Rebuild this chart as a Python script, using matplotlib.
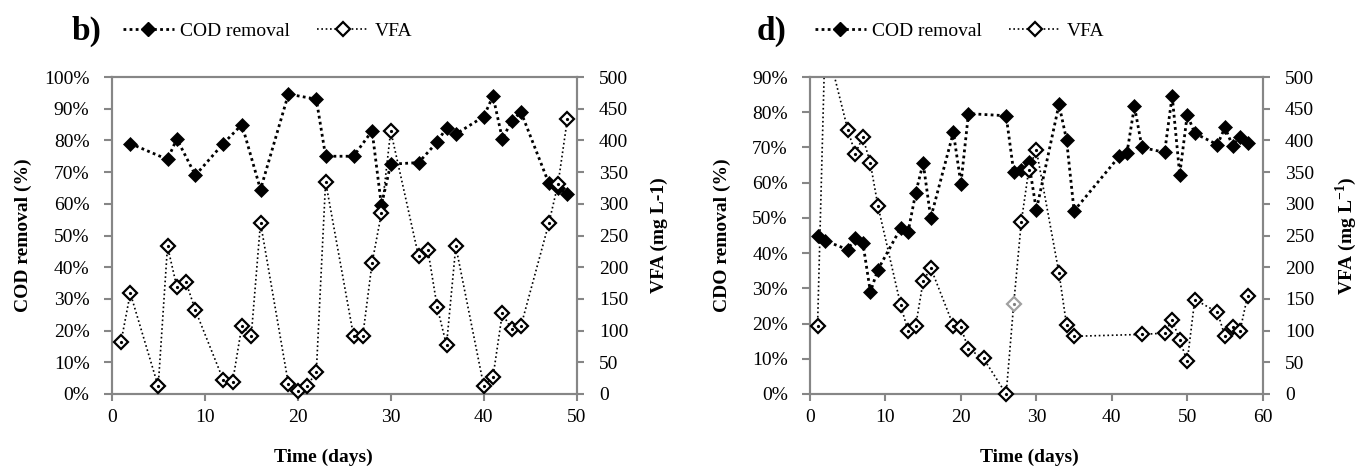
import numpy as np
import matplotlib
matplotlib.use("Agg")
import matplotlib.pyplot as plt
from matplotlib.lines import Line2D

plt.rcParams['font.family'] = ['Liberation Serif', 'DejaVu Serif']
plt.rcParams['mathtext.fontset'] = 'custom'
plt.rcParams['mathtext.rm'] = 'Liberation Serif'
plt.rcParams['mathtext.bf'] = 'Liberation Serif:bold'

# panel b) data
b_cod_days = [2, 6, 7, 9, 12, 14, 16, 19, 22, 23, 26, 28, 29, 30, 33, 35, 36, 37, 40, 41, 42, 43, 44, 47, 48, 49]
b_cod = [79, 74, 80.5, 69, 79, 85, 64.5, 94.6, 93, 75, 75, 83, 59.5, 72.5, 73, 79.5, 84, 82, 87.5, 94,
         80.5, 86, 89, 66.5, 65, 63]
b_vfa_days = [1, 2, 5, 6, 7, 8, 9, 12, 13, 14, 15, 16, 19, 20, 21, 22, 23, 26, 27, 28, 29, 30, 33, 34, 35,
              36, 37, 40, 41, 42, 43, 44, 47, 48, 49]
b_vfa = [82, 159, 12, 233, 169, 176, 132, 22, 19, 108, 91, 270, 16, 4, 13, 34, 335, 92, 92, 207, 285, 415,
         217, 227, 137, 77, 233, 13, 27, 127, 102, 107, 269, 332, 434]

# panel d) data
d_cod_days = [1, 2, 5, 6, 7, 8, 9, 12, 13, 14, 15, 16, 19, 20, 21, 26, 27, 28, 29, 30, 33, 34, 35, 41, 42,
              43, 44, 47, 48, 49, 50, 51, 54, 55, 56, 57, 58]
d_cod = [44.8, 43.5, 41, 44.3, 43, 29, 35.3, 47, 46, 57, 65.6, 50, 74.3, 59.7, 79.6, 79, 63, 63.7, 65.8,
         52.2, 82.2, 72.2, 52, 67.5, 68.3, 81.7, 70, 68.6, 84.7, 62.3, 79.3, 74, 70.8, 75.7, 70.5, 73, 71.3]
d_vfa_days = [1, 2, 5, 6, 7, 8, 9, 12, 13, 14, 15, 16, 19, 20, 21, 23, 26, 27, 28, 29, 30, 33, 34, 35, 44,
              47, 48, 49, 50, 51, 54, 55, 56, 57, 58]
d_vfa = [107, 560, 417, 379, 405, 364, 297, 141, 99, 107, 178, 199, 108, 105, 71, 56, 0, 142, 271, 354, 385,
         191, 109, 91, 94, 96, 117, 85, 52, 149, 129, 91, 105, 100, 155]
d_vfa_gray_day = 27

W, H = 1370, 474
fig = plt.figure(figsize=(W / 100, H / 100), dpi=100)

GRAY = '#868686'
COD_LS = (0, (1, 1.2))
VFA_LS = (0, (1, 1.6))


def series(ax, x, y, filled, lw, hide=(), gray=()):
    x = np.asarray(x, float)
    y = np.asarray(y, float)
    ax.plot(x, y, ls=COD_LS if filled else VFA_LS, lw=lw, color='k', zorder=2)
    keep = [i for i in range(len(x)) if i not in hide and i not in gray]
    if filled:
        ax.plot(x[keep], y[keep], ls='none', marker='D', ms=7.6, mfc='k', mec='k', mew=0.5,
                clip_on=False, zorder=3)
    else:
        ax.plot(x[keep], y[keep], ls='none', marker='D', ms=7.0, mfc='w', mec='k', mew=1.6,
                clip_on=False, zorder=3)
        ax.plot(x[keep], y[keep], ls='none', marker='o', ms=1.3, color='k', clip_on=False, zorder=4)
        for i in gray:
            ax.plot(x[i], y[i], ls='none', marker='D', ms=7.0, mfc='w', mec='#a0a0a0', mew=1.6,
                    clip_on=False, zorder=3)
            ax.plot(x[i], y[i], ls='none', marker='o', ms=1.3, color='#808080', clip_on=False, zorder=4)


def style(ax, ax2, xmax, ymax, ylab, y2lab, x0, x1, xlab_x):
    for a in (ax, ax2):
        for s in a.spines.values():
            s.set_color(GRAY)
            s.set_linewidth(1.5)
    ax.set_xlim(0, xmax)
    ax.set_xticks(np.arange(0, xmax + 1, 10))
    ax.set_ylim(0, ymax)
    ax.set_yticks(np.arange(0, ymax + 1, 10))
    ax.set_yticklabels([f"{v:.0f}%" for v in np.arange(0, ymax + 1, 10)])
    ax2.set_ylim(0, 500)
    ax2.set_yticks(np.arange(0, 501, 50))
    ax.tick_params(axis='y', direction='out', length=6, width=1.5, color=GRAY, labelsize=14, pad=10)
    ax.tick_params(axis='x', direction='out', length=5, width=1.5, color=GRAY, labelsize=14, pad=6)
    ax2.tick_params(axis='y', direction='out', length=5, width=1.5, color=GRAY, labelsize=14, pad=11)
    wpx = x1 - x0
    ax.set_ylabel(ylab, fontsize=14, fontweight='bold', va='center')
    ax.yaxis.set_label_coords(-88 / wpx, 0.5)
    ax2.set_ylabel(y2lab, fontsize=14, fontweight='bold', va='center')
    ax2.yaxis.set_label_coords(1 + 83 / wpx, 0.5)
    ax.set_xlabel('Time (days)', fontsize=14, fontweight='bold', va='center')
    ax.xaxis.set_label_coords((xlab_x - x0) / wpx, -(457 - 394) / 317)


def make_axes(x0, x1, top=77, bottom=394):
    ax = fig.add_axes([x0 / W, 1 - bottom / H, (x1 - x0) / W, (bottom - top) / H])
    ax2 = ax.twinx()
    return ax, ax2


def legend(tag, tag_x, leg_x):
    fig.text(tag_x / W, 1 - 31 / H, tag, fontsize=24, fontweight='bold', ha='left', va='center')
    h1 = Line2D([], [], ls=COD_LS, lw=2.0, color='k', marker='D', ms=7.6, mfc='k', mec='k')
    h2 = Line2D([], [], ls=VFA_LS, lw=1.2, color='k', marker='D', ms=7.0, mfc='w', mec='k', mew=1.6)
    fig.legend([h1, h2], ['COD removal', 'VFA'], ncol=2, frameon=False, fontsize=14,
               loc='center left', bbox_to_anchor=(leg_x / W, 1 - 31 / H),
               borderpad=0, borderaxespad=0, handlelength=2.6, handletextpad=0.35,
               columnspacing=1.4)


# panel b
axb, axb2 = make_axes(111.7, 576.7)
series(axb, b_cod_days, b_cod, True, 2.0)
series(axb2, b_vfa_days, b_vfa, False, 1.2)
style(axb, axb2, 50, 100, 'COD removal (%)', 'VFA (mg L-1)', 111.7, 576.7, 323)
legend('b)', 72, 123)

# panel d
axd, axd2 = make_axes(810, 1262.7)
series(axd, d_cod_days, d_cod, True, 2.0)
series(axd2, d_vfa_days, d_vfa, False, 1.2, hide=(1,), gray=(d_vfa_days.index(d_vfa_gray_day),))
style(axd, axd2, 60, 90, 'CDO removal (%)', r'VFA (mg L$^{\mathbf{-1}}$)', 810, 1262.7, 1029)
legend('d)', 757, 815)

fig.savefig('out.png', dpi=100)
